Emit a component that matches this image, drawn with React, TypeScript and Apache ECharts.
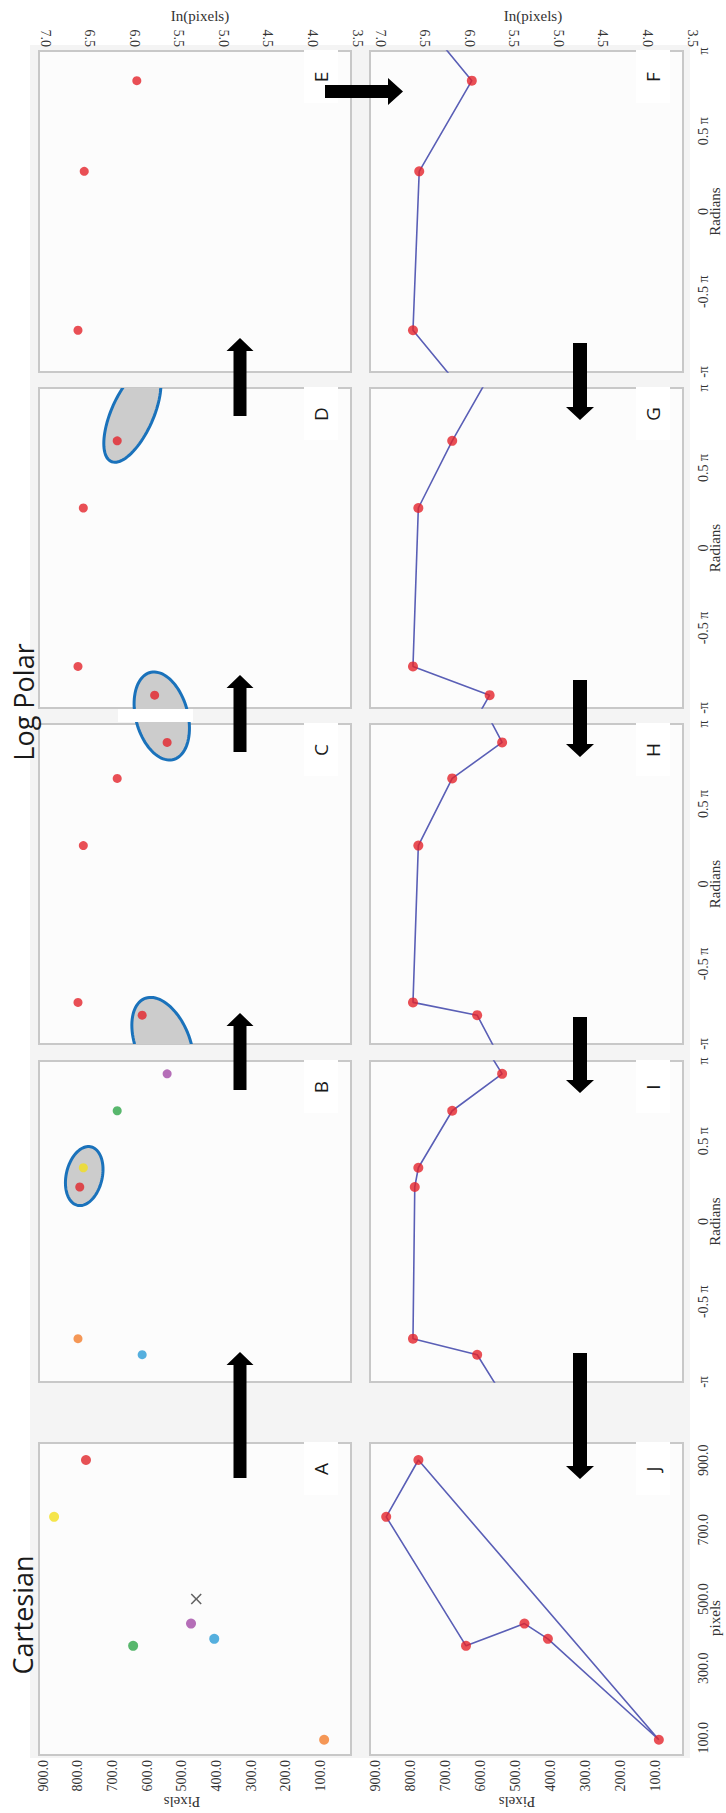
import React, { useEffect, useRef } from 'react';
import * as echarts from 'echarts';

// ---------- DATA ----------
// Cartesian points (pixel coordinates): x = horizontal image coordinate, y = vertical image coordinate
const cartNames = ['orange', 'blue', 'purple', 'green', 'yellow', 'red'];
const cartColors = ['#f27d2c', '#2b9bd6', '#a34aa6', '#2ea548', '#f2de1e', '#e0252b'];
const cartPixelsX = [94, 385, 429, 365, 737, 901];
const cartPixelsY = [89, 406, 473, 640, 868, 776];
const centreX = 500;
const centreY = 458;

// Log-polar stages: angle in units of pi, ln(pixels)
const stageBTheta = [-0.83, -0.73, 0.215, 0.335, 0.69, 0.92];
const stageBLn = [5.91, 6.63, 6.61, 6.57, 6.19, 5.63];
const stageBColors = ['#2b9bd6', '#f27d2c', '#e0252b', '#f2de1e', '#2ea548', '#a34aa6'];
const stageCTheta = [-0.82, -0.74, 0.24, 0.66, 0.885];
const stageCLn = [5.91, 6.63, 6.57, 6.19, 5.63];
const stageDTheta = [-0.92, -0.74, 0.25, 0.67];
const stageDLn = [5.77, 6.63, 6.57, 6.19];
const stageETheta = [-0.74, 0.25, 0.815];
const stageELn = [6.63, 6.56, 5.97];

// Tick labels
const radTicks = [-1, -0.5, 0, 0.5, 1];
const radLabels = ['-π', '-0.5 π', '0', '0.5 π', 'π'];
const leftLetters = ['A', 'B', 'C', 'D', 'E'];
const rightLetters = ['J', 'I', 'H', 'G', 'F'];

// Annotation ellipses (grid index, centre in data units, pixel half axes, tilt in degrees)
const ellipseNotes = [
  { grid: 1, ln: 6.56, th: 0.283, a: 30, b: 18, tilt: 13, clip: false },
  { grid: 2, ln: 5.68, th: -0.994, a: 48, b: 27, tilt: -22, clip: true },
  { grid: 2, ln: 5.69, th: 1.05, a: 45, b: 26, tilt: -15, clip: false },
  { grid: 3, ln: 6.02, th: 0.8375, a: 52, b: 21, tilt: 24, clip: true },
];

// ---------- LAYOUT ----------
const SERIF = '"Liberation Serif", "Times New Roman", serif';
const SANS = '"Open Sans", "Liberation Sans", Arial, sans-serif';
const AXIS_COLOR = '#333333';
const LINE_COLOR = '#5a5fb6';
const RED = '#e3232a';
const ROWS = [
  { top: 1443, bottom: 1755 },
  { top: 1061, bottom: 1382 },
  { top: 724, bottom: 1044 },
  { top: 388, bottom: 708 },
  { top: 51, bottom: 372 },
];
const PANEL_X = [
  [39, 351],
  [370, 683],
];

function radLabelFor(v: number) {
  for (let i = 0; i < radTicks.length; i++) {
    if (Math.abs(radTicks[i] - v) < 1e-6) return radLabels[i];
  }
  return '';
}

function wrapLine(th: number[], ln: number[]) {
  const n = th.length;
  const pts = th.map((t, i) => [ln[i], t]);
  return [[ln[n - 1], th[n - 1] - 2], ...pts, [ln[0], th[0] + 2]];
}

function upArrow(cx: number, tip: number, base: number, bottom: number) {
  return [
    [cx - 6.5, bottom], [cx - 6.5, base], [cx - 13.5, base], [cx, tip],
    [cx + 13.5, base], [cx + 6.5, base], [cx + 6.5, bottom],
  ];
}
function downArrow(cx: number, top: number, base: number, tip: number) {
  return [
    [cx - 7, top], [cx - 7, base], [cx - 14, base], [cx, tip],
    [cx + 14, base], [cx + 7, base], [cx + 7, top],
  ];
}

function txt(text: string, x: number, y: number, rot: number, font: string, fill = '#222') {
  return {
    type: 'text', x, y, rotation: rot, z: 6, silent: true,
    style: { text, font, fill, textAlign: 'center', textVerticalAlign: 'middle', align: 'center', verticalAlign: 'middle' },
  };
}

function buildOption() {
  const grids: any[] = [];
  const xAxes: any[] = [];
  const yAxes: any[] = [];
  const series: any[] = [];

  for (let col = 0; col < 2; col++) {
    for (let r = 0; r < 5; r++) {
      const idx = col * 5 + r;
      const row = ROWS[r];
      const cart = r === 0;
      const left = col === 0 ? (cart ? 43 : 45) : (cart ? 375 : 380);
      const width = col === 1 && cart ? 315 : 312;
      grids.push({ left, top: row.top, width, height: row.bottom - row.top, containLabel: false });
      xAxes.push({
        type: 'value', gridIndex: idx, inverse: true,
        min: cart ? 0 : 3.5, max: cart ? 900 : 7, interval: cart ? 100 : 0.5,
        position: cart ? 'bottom' : 'top',
        axisLine: { show: false, onZero: false }, axisTick: { show: false }, splitLine: { show: false },
        axisLabel: {
          show: cart || r === 4, rotate: 90, margin: cart ? 5 : 4,
          fontFamily: SERIF, fontSize: 14, color: AXIS_COLOR,
          formatter: (v: number) => (cart ? (v === 0 ? '' : v.toFixed(1)) : v.toFixed(1)),
        },
      });
      yAxes.push({
        type: 'value', gridIndex: idx, position: 'right',
        min: cart ? 50 : -1, max: cart ? 950 : 1, interval: cart ? 50 : 0.5,
        axisLine: { show: false, onZero: false }, axisTick: { show: false }, splitLine: { show: false },
        axisLabel: {
          show: col === 1, rotate: 90, margin: cart ? 6 : 4,
          fontFamily: SERIF, fontSize: 14, color: AXIS_COLOR,
          formatter: cart
            ? (v: number) => ((Math.round(v) - 100) % 200 === 0 ? v.toFixed(1) : '')
            : (v: number) => radLabelFor(v),
        },
      });
    }
  }

  // Panel A: coloured points + centre mark
  series.push({
    type: 'scatter', xAxisIndex: 0, yAxisIndex: 0, symbolSize: 10, z: 3,
    data: cartPixelsY.map((y, i) => ({ name: cartNames[i], value: [y, cartPixelsX[i]], itemStyle: { color: cartColors[i] } })),
  });
  series.push({
    type: 'scatter', xAxisIndex: 0, yAxisIndex: 0, z: 3,
    symbol: 'path://M1,0L5,4L9,0L10,1L6,5L10,9L9,10L5,6L1,10L0,9L4,5L0,1Z', symbolSize: 11,
    itemStyle: { color: '#3b3b3b' },
    data: [[centreY, centreX]],
  });
  // Panel J: closed line through the points
  const jData = cartPixelsY.map((y, i) => [y, cartPixelsX[i]]);
  series.push({
    type: 'line', xAxisIndex: 5, yAxisIndex: 5, z: 2, showSymbol: false,
    lineStyle: { color: LINE_COLOR, width: 1.6 }, data: [...jData, jData[0]],
  });
  series.push({ type: 'scatter', xAxisIndex: 5, yAxisIndex: 5, z: 3, symbolSize: 10, itemStyle: { color: RED }, data: jData });

  const stages: { th: number[]; ln: number[]; colors?: string[] }[] = [
    { th: stageBTheta, ln: stageBLn, colors: stageBColors },
    { th: stageCTheta, ln: stageCLn },
    { th: stageDTheta, ln: stageDLn },
    { th: stageETheta, ln: stageELn },
  ];
  stages.forEach((s, k) => {
    const r = k + 1;
    series.push({
      type: 'scatter', xAxisIndex: r, yAxisIndex: r, z: 3, symbolSize: 9,
      data: s.th.map((t, i) => ({ value: [s.ln[i], t], itemStyle: { color: s.colors ? s.colors[i] : RED } })),
    });
    series.push({
      type: 'line', xAxisIndex: 5 + r, yAxisIndex: 5 + r, z: 2, showSymbol: false, clip: true,
      lineStyle: { color: LINE_COLOR, width: 1.6 }, data: wrapLine(s.th, s.ln),
    });
    series.push({
      type: 'scatter', xAxisIndex: 5 + r, yAxisIndex: 5 + r, z: 3, symbolSize: 10,
      itemStyle: { color: RED }, data: s.th.map((t, i) => [s.ln[i], t]),
    });
  });

  ellipseNotes.forEach((e) => {
    series.push({
      type: 'custom', xAxisIndex: e.grid, yAxisIndex: e.grid, clip: e.clip, z: 1, silent: true,
      data: [[e.ln, e.th]],
      renderItem: (_p: any, api: any) => {
        const c = api.coord([api.value(0), api.value(1)]);
        const phi = (e.tilt * Math.PI) / 180;
        const pts: number[][] = [];
        for (let i = 0; i < 90; i++) {
          const t = (i / 90) * 2 * Math.PI;
          const lx = e.b * Math.cos(t);
          const ly = e.a * Math.sin(t);
          pts.push([c[0] + lx * Math.cos(phi) - ly * Math.sin(phi), c[1] + lx * Math.sin(phi) + ly * Math.cos(phi)]);
        }
        return { type: 'polygon', shape: { points: pts }, style: { fill: '#cccccc', stroke: '#1a72bb', lineWidth: 3 } };
      },
    });
  });

  const graphics: any[] = [];
  graphics.push({ type: 'rect', z: 0, silent: true, shape: { x: 30, y: 45, width: 660, height: 1713 }, style: { fill: '#f4f4f4' } });
  for (let col = 0; col < 2; col++) {
    for (let r = 0; r < 5; r++) {
      const [x0, x1] = PANEL_X[col];
      const row = ROWS[r];
      graphics.push({
        type: 'rect', z: 0.5, silent: true,
        shape: { x: x0, y: row.top, width: x1 - x0, height: row.bottom - row.top },
        style: { fill: '#fcfcfc', stroke: '#c8c8c8', lineWidth: 2 },
      });
      const bx = col === 0 ? 304 : 636;
      graphics.push({
        type: 'rect', z: 4, silent: true,
        shape: { x: bx, y: row.top - 1, width: 34, height: 53 },
        style: { fill: '#ffffff' },
      });
      graphics.push(txt(col === 0 ? leftLetters[r] : rightLetters[r], bx + 17, row.top + 26, Math.PI / 2, `19px ${SANS}`, '#1a1a1a'));
    }
  }
  // white strip crossing the ellipse between C and D
  graphics.push({ type: 'rect', z: 2.5, silent: true, shape: { x: 118, y: 709, width: 75, height: 13 }, style: { fill: '#ffffff' } });

  // arrows
  const arrowStyle = { fill: '#000000' };
  [
    upArrow(240, 1352, 1365, 1478),
    upArrow(240, 1013, 1026, 1090),
    upArrow(240, 675, 688, 752),
    upArrow(240, 338, 351, 416),
    downArrow(580, 343, 407, 420),
    downArrow(580, 680, 744, 757),
    downArrow(580, 1017, 1080, 1093),
    downArrow(580, 1353, 1466, 1479),
    [[325, 85], [388, 85], [388, 78], [403, 91.5], [388, 105], [388, 98], [325, 98]],
  ].forEach((pts) => graphics.push({ type: 'polygon', z: 5, silent: true, shape: { points: pts }, style: arrowStyle }));

  // titles and axis names
  graphics.push(txt('Cartesian', 22, 1615, Math.PI / 2, `27px ${SANS}`, '#1a1a1a'));
  graphics.push(txt('Log Polar', 23, 702, Math.PI / 2, `27px ${SANS}`, '#1a1a1a'));
  graphics.push(txt('Pixels', 182, 1802, Math.PI, `15px ${SERIF}`, AXIS_COLOR));
  graphics.push(txt('Pixels', 517, 1802, Math.PI, `15px ${SERIF}`, AXIS_COLOR));
  graphics.push(txt('In(pixels)', 200, 16, 0, `15px ${SERIF}`, AXIS_COLOR));
  graphics.push(txt('In(pixels)', 533, 16, 0, `15px ${SERIF}`, AXIS_COLOR));
  graphics.push(txt('pixels', 715, 1618, Math.PI / 2, `15px ${SERIF}`, AXIS_COLOR));
  for (let r = 1; r < 5; r++) {
    const row = ROWS[r];
    graphics.push(txt('Radians', 715, (row.top + row.bottom) / 2, Math.PI / 2, `15px ${SERIF}`, AXIS_COLOR));
  }

  return {
    animation: false,
    backgroundColor: '#ffffff',
    grid: grids,
    xAxis: xAxes,
    yAxis: yAxes,
    series,
    graphic: { elements: graphics },
  };
}

export default function App() {
  const ref = useRef<HTMLDivElement>(null);
  useEffect(() => {
    const chart = echarts.init(ref.current as HTMLDivElement, null, { renderer: 'svg', width: 726, height: 1813 });
    chart.setOption(buildOption() as any);
    return () => chart.dispose();
  }, []);
  return (
    <div
      ref={ref}
      style={{ position: 'absolute', left: 0, top: 0, width: 726, height: 1813, background: '#ffffff' }}
    />
  );
}
